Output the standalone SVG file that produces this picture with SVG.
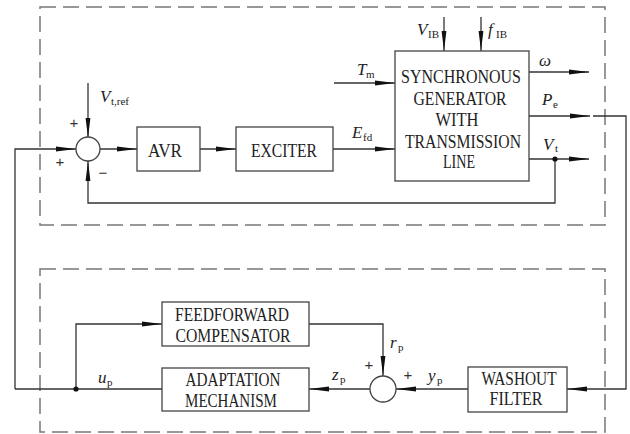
<svg xmlns="http://www.w3.org/2000/svg" width="630" height="434" viewBox="0 0 630 434">
<defs>
<style>
.ln{fill:none;stroke:#333;stroke-width:1.3}
.arr{fill:none;stroke:#333;stroke-width:1.3;marker-end:url(#ah)}
.box{fill:#fff;stroke:#444;stroke-width:1.3}
.dash{fill:none;stroke:#777;stroke-width:1.5;stroke-dasharray:16 7}
.bt{font-family:"Liberation Serif",serif;font-size:18px;fill:#222;text-anchor:middle}
.mi{font-family:"Liberation Serif",serif;font-style:italic;font-size:17px;fill:#222}
.sub{font-family:"Liberation Serif",serif;font-size:11px;fill:#222}
.sg{font-family:"Liberation Sans",sans-serif;font-size:15px;fill:#333;text-anchor:middle}
.dot{fill:#111}
</style>
<marker id="ah" viewBox="0 0 20 6" refX="20" refY="3" markerWidth="20" markerHeight="6" markerUnits="userSpaceOnUse" orient="auto">
<path d="M0,0.6 L20,3 L0,5.4 Z" fill="#111"/>
</marker>
</defs>
<rect width="630" height="434" fill="#fff"/>

<g id="frames">
<rect class="dash" x="40" y="7" width="565" height="218"/>
<rect class="dash" x="40" y="269" width="565" height="163"/>
</g>

<g id="connectors">
<path class="arr" d="M88,83 L88,138"/>
<path class="arr" d="M15,389 L15,149 L76,149"/>
<path class="arr" d="M100,149 L137,149"/>
<path class="arr" d="M200,149 L236,149"/>
<path class="arr" d="M333,149 L395,149"/>
<path class="arr" d="M334,83 L395,83"/>
<path class="arr" d="M444,17 L444,51"/>
<path class="arr" d="M481,17 L481,51"/>
<path class="arr" d="M529,72 L589,72"/>
<path class="arr" d="M529,116 L590,116"/>
<path class="arr" d="M593,116 L626,116 L626,389 L567,389"/>
<path class="arr" d="M529,159 L589,159"/>
<path class="arr" d="M555,159 L555,203 L88,203 L88,161"/>
<path class="ln" d="M15,389 L162,389"/>
<path class="arr" d="M76,389 L76,324 L162,324"/>
<path class="arr" d="M309,324 L383,324 L383,376"/>
<path class="arr" d="M370,389 L309,389"/>
<path class="arr" d="M468,389 L396,389"/>
<circle class="dot" cx="555" cy="159" r="2.6"/>
<circle class="dot" cx="76" cy="389" r="2.6"/>
</g>

<g id="sum1">
<circle class="box" cx="88" cy="149" r="12"/>
<text class="sg" x="74" y="128">+</text>
<text class="sg" x="60" y="167">+</text>
<text class="sg" x="103" y="178">−</text>
</g>

<g id="avr">
<rect class="box" x="137" y="127" width="63" height="44"/>
<text class="bt" x="165" y="157" textLength="34" lengthAdjust="spacingAndGlyphs">AVR</text>
</g>

<g id="exciter">
<rect class="box" x="236" y="127" width="97" height="44"/>
<text class="bt" x="284" y="157" textLength="66" lengthAdjust="spacingAndGlyphs">EXCITER</text>
</g>

<g id="generator">
<rect class="box" x="395" y="51" width="134" height="130"/>
<text class="bt" x="461" y="83" textLength="120" lengthAdjust="spacingAndGlyphs">SYNCHRONOUS</text>
<text class="bt" x="460" y="105" textLength="93" lengthAdjust="spacingAndGlyphs">GENERATOR</text>
<text class="bt" x="457" y="126" textLength="43" lengthAdjust="spacingAndGlyphs">WITH</text>
<text class="bt" x="463" y="148" textLength="116" lengthAdjust="spacingAndGlyphs">TRANSMISSION</text>
<text class="bt" x="459" y="168" textLength="32" lengthAdjust="spacingAndGlyphs">LINE</text>
</g>

<g id="feedforward">
<rect class="box" x="162" y="302" width="147" height="44"/>
<text class="bt" x="232" y="321" textLength="114" lengthAdjust="spacingAndGlyphs">FEEDFORWARD</text>
<text class="bt" x="233" y="342" textLength="115" lengthAdjust="spacingAndGlyphs">COMPENSATOR</text>
</g>

<g id="adaptation">
<rect class="box" x="162" y="368" width="147" height="43"/>
<text class="bt" x="233" y="386" textLength="95" lengthAdjust="spacingAndGlyphs">ADAPTATION</text>
<text class="bt" x="231" y="407" textLength="92" lengthAdjust="spacingAndGlyphs">MECHANISM</text>
</g>

<g id="sum2">
<circle class="box" cx="383" cy="389" r="13"/>
<text class="sg" x="369" y="370">+</text>
<text class="sg" x="408" y="380">+</text>
</g>

<g id="washout">
<rect class="box" x="468" y="367" width="99" height="45"/>
<text class="bt" x="519" y="385" textLength="75" lengthAdjust="spacingAndGlyphs">WASHOUT</text>
<text class="bt" x="516" y="405" textLength="53" lengthAdjust="spacingAndGlyphs">FILTER</text>
</g>

<g id="labels">
<text class="mi" x="100" y="102">V</text><text class="sub" x="111" y="105">t,ref</text>
<text class="mi" x="352" y="138">E</text><text class="sub" x="363" y="141">fd</text>
<text class="mi" x="357" y="75">T</text><text class="sub" x="366" y="78">m</text>
<text class="mi" x="417" y="35">V</text><text class="sub" x="428" y="38">IB</text>
<text class="mi" x="488" y="35">f</text><text class="sub" x="496" y="38">IB</text>
<text class="mi" x="539" y="66">ω</text>
<text class="mi" x="542" y="105">P</text><text class="sub" x="553" y="108">e</text>
<text class="mi" x="543" y="150">V</text><text class="sub" x="555" y="152">t</text>
<text class="mi" x="390" y="348">r</text><text class="sub" x="398" y="351">p</text>
<text class="mi" x="332" y="380">z</text><text class="sub" x="340" y="383">p</text>
<text class="mi" x="428" y="381">y</text><text class="sub" x="437" y="384">p</text>
<text class="mi" x="98" y="383">u</text><text class="sub" x="107" y="386">p</text>
</g>
</svg>
